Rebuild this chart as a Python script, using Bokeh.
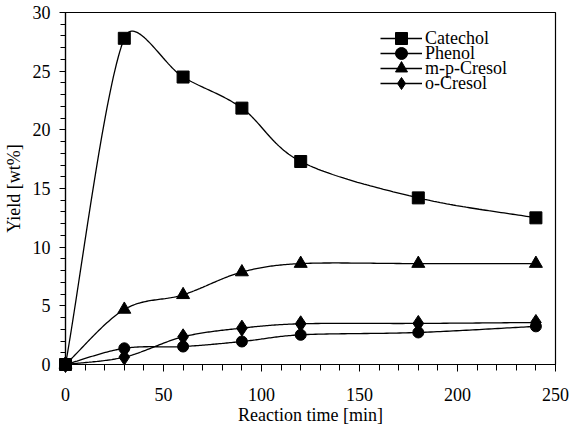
import numpy as np
from bokeh.plotting import figure
from bokeh.models import Legend, LegendItem, SingleIntervalTicker, Range1d
from bokeh.embed import file_html
from bokeh.resources import INLINE

# ---- data ----
time_min = [0, 30, 60, 90, 120, 180, 240]
catechol = [0, 27.8, 24.5, 21.85, 17.3, 14.2, 12.5]
phenol = [0, 1.38, 1.53, 1.96, 2.53, 2.73, 3.25]
mp_cresol = [0, 4.69, 5.94, 7.88, 8.6, 8.6, 8.6]
o_cresol = [0, 0.63, 2.36, 3.1, 3.47, 3.5, 3.58]

series_names = ["Catechol", "Phenol", "m-p-Cresol", "o-Cresol"]
series_values = [catechol, phenol, mp_cresol, o_cresol]
series_markers = ["square", "circle", "triangle", "diamond"]
marker_sizes = [12, 11, 13, 16]

X_MAX = 250
Y_MAX = 30

FW, FH = 570, 430
ML, MR, MT, MB = 62, 15, 12, 66
FRAME_W = FW - ML - MR
FRAME_H = FH - MT - MB

FONT = "Liberation Serif"


def smooth(xs, ys, sx, sy, s=0.4, n=40):
    """Smoothed (Bezier) path through the data points, computed in pixel space."""
    P = np.column_stack([np.asarray(xs, float) * sx, np.asarray(ys, float) * sy])
    m = len(P)
    tang = []
    dl = []
    for i in range(m):
        if i == 0:
            d = P[1] - P[0]
        elif i == m - 1:
            d = P[-1] - P[-2]
        else:
            d = P[i + 1] - P[i - 1]
        nrm = np.hypot(*d)
        tang.append(d / nrm if nrm > 0 else d)
        dl.append(nrm / 6.0 if 0 < i < m - 1 else nrm / 4.0)
    out = [P[0]]
    t = np.linspace(0, 1, n)[1:]
    for i in range(m - 1):
        L = np.hypot(*(P[i + 1] - P[i]))
        c1 = P[i] + tang[i] * min(L * s, dl[i])
        c2 = P[i + 1] - tang[i + 1] * min(L * s, dl[i + 1])
        for tt in t:
            b = ((1 - tt) ** 3) * P[i] + 3 * ((1 - tt) ** 2) * tt * c1 + 3 * (1 - tt) * tt ** 2 * c2 + tt ** 3 * P[i + 1]
            out.append(b)
    out = np.array(out)
    return out[:, 0] / sx, out[:, 1] / sy


p = figure(width=FW, height=FH, output_backend="svg", toolbar_location=None,
           x_range=Range1d(0, X_MAX), y_range=Range1d(0, Y_MAX),
           min_border_left=ML, min_border_right=MR, min_border_top=MT, min_border_bottom=MB)
p.background_fill_color = "white"
p.border_fill_color = "white"
p.outline_line_color = "black"
p.outline_line_width = 1.2
p.xgrid.visible = False
p.ygrid.visible = False

sx = FRAME_W / X_MAX
sy = FRAME_H / Y_MAX

items = []
for name, vals, mk, ms in zip(series_names, series_values, series_markers, marker_sizes):
    lx, ly = smooth(time_min, vals, sx, sy)
    lr = p.line(lx, ly, line_color="black", line_width=1.3)
    sr = p.scatter(time_min, vals, marker=mk, size=ms, fill_color="black", line_color="black")
    sr.level = "overlay"
    items.append(LegendItem(label=name, renderers=[lr, sr]))

# axes
p.xaxis.ticker = SingleIntervalTicker(interval=50, num_minor_ticks=5)
p.yaxis.ticker = SingleIntervalTicker(interval=5, num_minor_ticks=5)
for ax in (p.xaxis[0], p.yaxis[0]):
    ax.axis_line_color = "black"
    ax.axis_line_width = 1.2
    ax.major_tick_line_color = "black"
    ax.minor_tick_line_color = "black"
    ax.major_tick_in = 0
    ax.minor_tick_in = 0
    ax.major_label_text_font = FONT
    ax.major_label_text_font_size = "18px"
    ax.major_label_text_color = "black"
    ax.axis_label_text_font = FONT
    ax.axis_label_text_font_size = "18px"
    ax.axis_label_text_font_style = "normal"
    ax.axis_label_text_color = "black"

p.xaxis.axis_label = "Reaction time [min]"
p.yaxis.axis_label = "Yield [wt%]"
p.xaxis.major_tick_out = 7
p.xaxis.minor_tick_out = 6
p.xaxis.major_label_standoff = 16
p.xaxis.axis_label_standoff = 1
p.yaxis.major_tick_out = 6
p.yaxis.minor_tick_out = 5
p.yaxis.major_label_standoff = 9
p.yaxis.axis_label_standoff = 6

# one single-row legend per series, rows 15 px apart
for k, item in enumerate(items):
    lg = Legend(items=[item], location=(FRAME_W - 178, FRAME_H - 41 - 15 * k))
    lg.border_line_color = None
    lg.background_fill_alpha = 0
    lg.padding = 0
    lg.margin = 0
    lg.spacing = 0
    lg.glyph_width = 42
    lg.glyph_height = 30
    lg.label_height = 15
    lg.label_standoff = 3
    lg.label_text_font = FONT
    lg.label_text_font_size = "18px"
    lg.label_text_color = "black"
    lg.label_text_baseline = "middle"
    p.add_layout(lg)

open("out.html", "w").write(file_html(p, INLINE))
